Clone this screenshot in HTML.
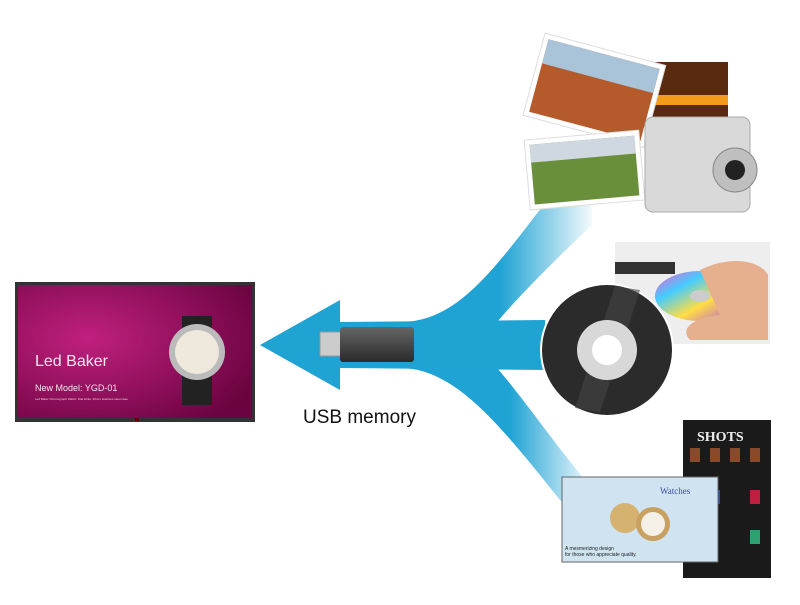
<!DOCTYPE html>
<html><head><style>
body{margin:0;width:800px;height:600px;background:#fff;overflow:hidden;font-family:"Liberation Sans",sans-serif}
</style></head><body>
<svg width="800" height="600" viewBox="0 0 800 600" xmlns="http://www.w3.org/2000/svg">
<defs>
<linearGradient id="fu" gradientUnits="userSpaceOnUse" x1="500" y1="0" x2="592" y2="0"><stop offset="0" stop-color="#1fa3d4"/><stop offset="1" stop-color="#1fa3d4" stop-opacity="0.05"/></linearGradient>
<linearGradient id="fl" gradientUnits="userSpaceOnUse" x1="510" y1="0" x2="592" y2="0"><stop offset="0" stop-color="#1fa3d4"/><stop offset="1" stop-color="#1fa3d4" stop-opacity="0.05"/></linearGradient>
<radialGradient id="silk" cx="0.3" cy="0.4" r="0.8"><stop offset="0" stop-color="#c0207e"/><stop offset="1" stop-color="#6a0340"/></radialGradient>
<linearGradient id="usb" x1="0" y1="0" x2="0" y2="1"><stop offset="0" stop-color="#666"/><stop offset="1" stop-color="#2a2a2a"/></linearGradient>
<linearGradient id="cd" x1="0" y1="0" x2="1" y2="1"><stop offset="0" stop-color="#f5c"/><stop offset="0.3" stop-color="#4cf"/><stop offset="0.6" stop-color="#fd4"/><stop offset="1" stop-color="#a4f"/></linearGradient>
</defs>
<!-- flow arrows -->
<path d="M400,322 C455,322 490,275 545,203 L592,203 L592,225 C555,260 520,295 497,322 Z" fill="url(#fu)"/>
<path d="M400,368 C455,368 500,425 560,500 L592,520 L592,488 C555,445 525,400 497,368 Z" fill="url(#fl)"/>
<path d="M260,345 L340,300 L340,322 L545,320 L545,370 L340,368 L340,390 Z" fill="#1ea3d3"/>
<!-- display -->
<rect x="15" y="282" width="240" height="140" fill="#333"/>
<rect x="18" y="285" width="234" height="133" fill="url(#silk)"/>
<rect x="135" y="418" width="4" height="3" fill="#600"/>
<text x="35" y="366" font-size="16" fill="#f4e8ee">Led Baker</text>
<text x="35" y="391" font-size="9" fill="#f4e8ee">New Model: YGD-01</text>
<text x="35" y="400" font-size="3" fill="#ddd">Led Baker Chronograph Watch. Dial white, 40mm stainless steel case</text>
<rect x="182" y="316" width="30" height="30" fill="#222"/>
<rect x="182" y="370" width="30" height="35" fill="#222"/>
<circle cx="197" cy="352" r="28" fill="#bbb"/>
<circle cx="197" cy="352" r="22" fill="#eee8dd"/>
<!-- USB -->
<rect x="320" y="332" width="22" height="24" fill="#ccc" stroke="#999"/>
<rect x="340" y="327" width="74" height="35" rx="3" fill="url(#usb)"/>
<text x="303" y="423" font-size="19" fill="#111">USB memory</text>
<!-- photos -->
<rect x="640" y="58" width="92" height="65" fill="#fff"/><rect x="644" y="62" width="84" height="57" fill="#5a2a10"/><rect x="644" y="95" width="84" height="10" fill="#f39c1b"/>
<g transform="rotate(15 595 90)"><rect x="532" y="48" width="125" height="85" fill="#fff" stroke="#ddd"/><rect x="537" y="53" width="115" height="75" fill="#b55a2a"/><rect x="537" y="53" width="115" height="25" fill="#a9c3d8"/></g>
<g transform="rotate(-5 585 170)"><rect x="527" y="135" width="115" height="70" fill="#fff" stroke="#ddd"/><rect x="532" y="140" width="105" height="60" fill="#6a8f3a"/><rect x="532" y="140" width="105" height="18" fill="#cfd8e0"/></g>
<rect x="645" y="117" width="105" height="95" rx="8" fill="#d9d9d9" stroke="#aaa"/>
<circle cx="735" cy="170" r="22" fill="#bfbfbf" stroke="#888"/>
<circle cx="735" cy="170" r="10" fill="#222"/>
<!-- hand CD -->
<rect x="615" y="242" width="155" height="102" fill="#eeeeee"/>
<rect x="615" y="262" width="60" height="12" fill="#333"/>
<ellipse cx="700" cy="296" rx="45" ry="25" fill="url(#cd)"/>
<ellipse cx="700" cy="296" rx="10" ry="6" fill="#ccc"/>
<path d="M700,270 C730,255 760,260 768,275 L768,340 L690,340 C680,330 690,318 720,315 Z" fill="#e6b08e"/>
<!-- disc -->
<circle cx="607" cy="350" r="67" fill="#fff"/>
<circle cx="607" cy="350" r="65" fill="#2b2b2b"/>
<path d="M615,286 L640,290 L600,412 L575,408 Z" fill="#444" opacity="0.6"/>
<circle cx="607" cy="350" r="30" fill="#d8d8d8"/>
<circle cx="607" cy="350" r="15" fill="#fff"/>
<!-- posters -->
<rect x="683" y="420" width="88" height="158" fill="#1a1a1a"/>
<text x="697" y="441" font-size="14" font-weight="bold" fill="#eee" font-family="Liberation Serif">SHOTS</text>
<g fill="#8a4a2a"><rect x="690" y="448" width="10" height="14"/><rect x="710" y="448" width="10" height="14"/><rect x="730" y="448" width="10" height="14"/><rect x="750" y="448" width="10" height="14"/>
<rect x="710" y="490" width="10" height="14" fill="#2050c0"/><rect x="750" y="490" width="10" height="14" fill="#c02040"/><rect x="750" y="530" width="10" height="14" fill="#30a070"/></g>
<rect x="562" y="477" width="156" height="85" fill="#cfe3f0" stroke="#666"/>
<text x="660" y="494" font-size="9" fill="#4050a0" font-family="Liberation Serif">Watches</text>
<circle cx="625" cy="518" r="15" fill="#d6b270"/><circle cx="653" cy="524" r="17" fill="#c8a060"/><circle cx="653" cy="524" r="12" fill="#f4f0e8"/>
<text x="565" y="550" font-size="5" fill="#222">A mesmerizing design</text>
<text x="565" y="556" font-size="5" fill="#222">for those who appreciate quality.</text>
</svg>
</body></html>
